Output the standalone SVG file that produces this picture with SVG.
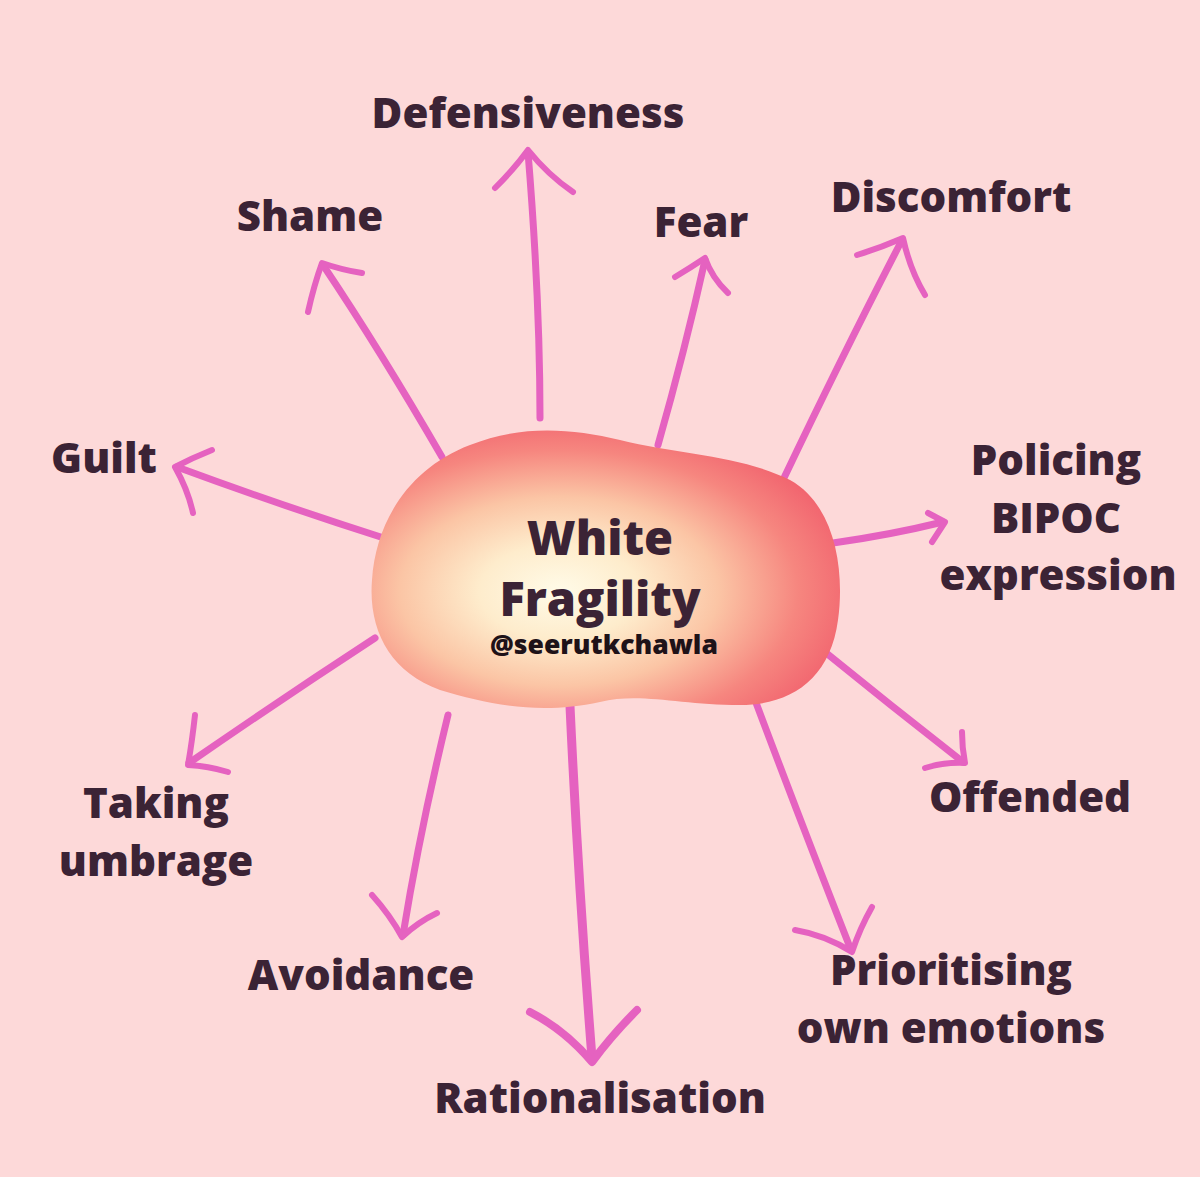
<svg xmlns="http://www.w3.org/2000/svg" width="1200" height="1177" viewBox="0 0 1200 1177">
<defs>
<style>
.lbl{font-family:"Open Sans","Liberation Sans",sans-serif;font-weight:800;font-size:42px;fill:#3b2335;text-anchor:middle}
.ttl{font-family:"Open Sans","Liberation Sans",sans-serif;font-weight:800;font-size:47px;fill:#3b2335;text-anchor:middle}
.tag{font-family:"Open Sans","Liberation Sans",sans-serif;font-weight:800;font-size:26.5px;fill:#1e1218;text-anchor:middle}
.arr{fill:none;stroke:#e562c0;stroke-width:7;stroke-linecap:round;stroke-linejoin:round}
.head{fill:none;stroke:#e562c0;stroke-width:6;stroke-linecap:round;stroke-linejoin:round}
</style>
<radialGradient id="blobGrad" cx="0.4" cy="0.58" r="0.68" fx="0.4" fy="0.58">
<stop offset="0" stop-color="#fffbe8"/>
<stop offset="0.25" stop-color="#feeccc"/>
<stop offset="0.5" stop-color="#fbc5a5"/>
<stop offset="0.75" stop-color="#f6867f"/>
<stop offset="1" stop-color="#f05a6a"/>
</radialGradient>
</defs>
<rect width="1200" height="1177" fill="#fdd9d9"/>

<g id="connectors">
<!-- Defensiveness -->
<path class="arr" d="M540,418 Q540,300 528,152"/>
<path class="head" d="M495,188 Q515,168 528,150 Q548,175 573,192"/>
<!-- Shame -->
<path class="arr" d="M442,457 Q380,350 323,265"/>
<path class="head" d="M308,312 Q314,285 322,263 Q342,270 362,273"/>
<!-- Fear -->
<path class="arr" d="M658,445 Q685,350 705,260"/>
<path class="head" d="M675,277 Q690,268 705,258 Q712,278 728,293"/>
<!-- Discomfort -->
<path class="arr" d="M783,480 Q845,350 902,240"/>
<path class="head" d="M857,255 Q880,248 903,238 Q910,270 925,295"/>
<!-- Guilt -->
<path class="arr" d="M390,540 Q280,505 177,467"/>
<path class="head" d="M212,450 Q192,458 175,467 Q188,490 193,513"/>
<!-- Policing BIPOC expression -->
<path class="arr" d="M833,543 Q890,535 943,522"/>
<path class="head" d="M928,513 L945,522 L932,542"/>
<!-- Offended -->
<path class="arr" d="M820,648 Q890,705 963,762"/>
<path class="head" d="M962,732 Q962,748 965,763 Q945,762 925,768"/>
<!-- Prioritising own emotions -->
<path class="arr" d="M755,700 Q800,820 851,950"/>
<path class="head" d="M795,930 Q825,935 852,952 Q860,928 872,907"/>
<!-- Rationalisation -->
<path class="arr" d="M570,706 Q578,880 592,1058" style="stroke-width:9"/>
<path class="head" d="M530,1012 Q565,1030 592,1062 Q612,1035 637,1010" style="stroke-width:8"/>
<!-- Avoidance -->
<path class="arr" d="M448,715 Q420,830 403,935"/>
<path class="head" d="M372,895 Q390,915 402,937 Q418,922 437,913"/>
<!-- Taking umbrage -->
<path class="arr" d="M375,638 Q280,700 189,763"/>
<path class="head" d="M195,715 Q192,742 188,765 Q208,766 228,772"/>
</g>

<g id="center">
<path d="M470,445 C520,425 570,428 620,440 C680,455 740,455 790,480 C835,505 845,570 838,620 C830,680 790,705 740,705 C680,705 640,692 600,702 C540,715 490,705 440,690 C390,672 368,630 372,580 C376,520 410,468 470,445 Z" fill="url(#blobGrad)"/>
<text class="ttl" x="600" y="555">White</text>
<text class="ttl" x="600" y="616">Fragility</text>
<text class="tag" x="604" y="654">@seerutkchawla</text>
</g>

<g id="n-defensiveness"><text class="lbl" x="528" y="128">Defensiveness</text></g>
<g id="n-shame"><text class="lbl" x="310" y="231">Shame</text></g>
<g id="n-fear"><text class="lbl" x="701" y="237">Fear</text></g>
<g id="n-discomfort"><text class="lbl" x="951" y="212">Discomfort</text></g>
<g id="n-guilt"><text class="lbl" x="104" y="473">Guilt</text></g>
<g id="n-policing"><text class="lbl" x="1056" y="475">Policing</text><text class="lbl" x="1056" y="533">BIPOC</text><text class="lbl" x="1058" y="590">expression</text></g>
<g id="n-offended"><text class="lbl" x="1030" y="812">Offended</text></g>
<g id="n-taking"><text class="lbl" x="156" y="818">Taking</text><text class="lbl" x="156" y="876">umbrage</text></g>
<g id="n-avoidance"><text class="lbl" x="361" y="990">Avoidance</text></g>
<g id="n-rationalisation"><text class="lbl" x="600" y="1113">Rationalisation</text></g>
<g id="n-prioritising"><text class="lbl" x="951" y="985">Prioritising</text><text class="lbl" x="951" y="1043">own emotions</text></g>
</svg>
